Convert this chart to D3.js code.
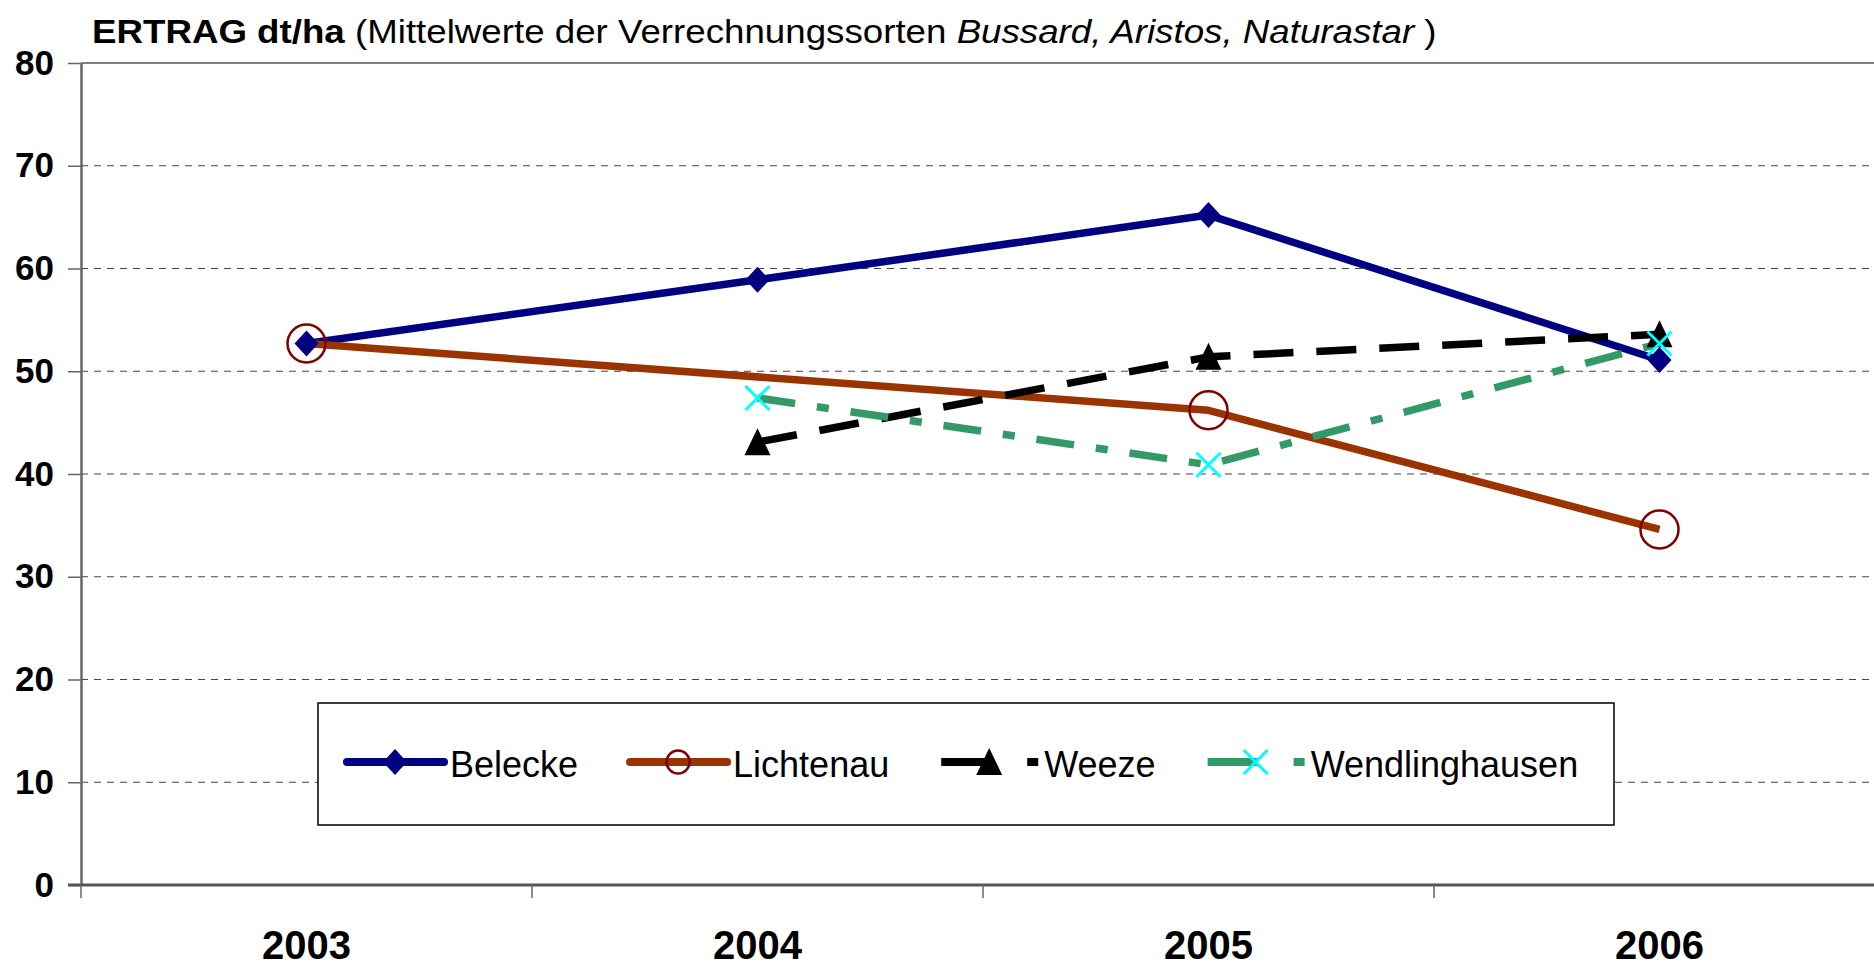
<!DOCTYPE html>
<html>
<head>
<meta charset="utf-8">
<script src="https://cdn.jsdelivr.net/npm/d3@7"></script>
<style>
  body { margin: 0; background: #fff; }
  svg { display: block; }
  text { font-family: Arial, "Liberation Sans", sans-serif; }
</style>
</head>
<body>
<svg id="chart" width="1874" height="967"></svg>
<script>
// data
var years = ["2003", "2004", "2005", "2006"];
var belecke = [52.7, 58.9, 65.2, 51.1];
var lichtenau = [52.7, null, 46.2, 34.6];
var weeze = [null, 43.1, 51.4, 53.6];
var wendlinghausen = [null, 47.4, 40.9, 52.7];
var yTicks = [0, 10, 20, 30, 40, 50, 60, 70, 80];
var seriesNames = ["Belecke", "Lichtenau", "Weeze", "Wendlinghausen"];

var series = [
  {name: seriesNames[0], values: belecke, color: "#000080", dash: null, marker: "diamond", mColor: "#000080"},
  {name: seriesNames[1], values: lichtenau, color: "#993300", dash: null, marker: "circle", mColor: "#800000"},
  {name: seriesNames[2], values: weeze, color: "#000000", dash: "40,23", marker: "triangle", mColor: "#000000"},
  {name: seriesNames[3], values: wendlinghausen, color: "#339966", dash: "38,22,12,22", marker: "x", mColor: "#00ffff"}
];

var svg = d3.select("#chart"),
    plotLeft = 81, plotTop = 63, plotBottom = 885,
    xScale = d3.scaleBand().domain(years).range([plotLeft, plotLeft + 4 * 451]),
    yScale = d3.scaleLinear().domain([0, 80]).range([plotBottom, plotTop]),
    bw = xScale.bandwidth();

function cx(i) { return xScale(years[i]) + bw / 2; }

// gridlines
svg.append("g").selectAll("line")
  .data(yTicks.filter(function(d) { return d > 0 && d < 80; }))
  .enter().append("line")
    .attr("x1", plotLeft).attr("x2", 1874)
    .attr("y1", function(d) { return yScale(d); })
    .attr("y2", function(d) { return yScale(d); })
    .attr("stroke", "#444").attr("stroke-width", 1.2)
    .attr("stroke-dasharray", "7,6");

// top border of plot area
svg.append("line")
  .attr("x1", plotLeft).attr("x2", 1874)
  .attr("y1", yScale(80)).attr("y2", yScale(80))
  .attr("stroke", "#808080").attr("stroke-width", 2);

// y axis
var yAxis = svg.append("g")
  .attr("transform", "translate(" + plotLeft + ",0)")
  .call(d3.axisLeft(yScale).tickValues(yTicks).tickSize(13).tickSizeOuter(0).tickPadding(14));
yAxis.select(".domain").attr("stroke", "#666").attr("stroke-width", 2.5);
yAxis.selectAll(".tick line").attr("stroke", "#666").attr("stroke-width", 1.5);
yAxis.selectAll(".tick text")
  .style("font-size", "35px").style("font-weight", "bold").attr("fill", "#000");

// x axis line + ticks between categories
svg.append("line")
  .attr("x1", plotLeft - 13).attr("x2", 1874)
  .attr("y1", plotBottom).attr("y2", plotBottom)
  .attr("stroke", "#555").attr("stroke-width", 3);
svg.append("g").selectAll("line")
  .data(years)
  .enter().append("line")
    .attr("x1", function(d) { return xScale(d); })
    .attr("x2", function(d) { return xScale(d); })
    .attr("y1", plotBottom).attr("y2", plotBottom + 13)
    .attr("stroke", "#666").attr("stroke-width", 1.5);
svg.append("g").selectAll("text")
  .data(years)
  .enter().append("text")
    .attr("x", function(d) { return xScale(d) + bw / 2; })
    .attr("y", 959)
    .attr("text-anchor", "middle")
    .style("font-size", "40px").style("font-weight", "bold")
    .text(function(d) { return d; });

// title
var title = svg.append("text").attr("x", 92).attr("y", 43).style("font-size", "33px");
title.append("tspan").style("font-weight", "bold").text("ERTRAG dt/ha");
title.append("tspan").text(" (Mittelwerte der Verrechnungssorten ");
title.append("tspan").style("font-style", "italic").text("Bussard, Aristos, Naturastar");
title.append("tspan").text(" )");
var tw = title.node().getComputedTextLength();
title.attr("transform", "translate(92,0) scale(" + (1345 / tw) + ",1) translate(-92,0)");

// markers
function drawMarker(g, type, color, x, y, big) {
  if (type == "diamond") {
    g.append("path")
      .attr("d", "M" + x + "," + (y - 13) + "L" + (x + 12) + "," + y + "L" + x + "," + (y + 13) + "L" + (x - 12) + "," + y + "Z")
      .attr("fill", color);
  } else if (type == "circle") {
    g.append("circle").attr("cx", x).attr("cy", y).attr("r", big ? 19 : 11.5)
      .attr("fill", "none").attr("stroke", color).attr("stroke-width", 2.5);
  } else if (type == "triangle") {
    g.append("path")
      .attr("d", "M" + x + "," + (y - 14) + "L" + (x + 13) + "," + (y + 13) + "L" + (x - 13) + "," + (y + 13) + "Z")
      .attr("fill", color);
  } else if (type == "x") {
    g.append("path")
      .attr("d", "M" + (x - 12) + "," + (y - 12) + "L" + (x + 12) + "," + (y + 12) + "M" + (x + 12) + "," + (y - 12) + "L" + (x - 12) + "," + (y + 12))
      .attr("stroke", color).attr("stroke-width", 3).attr("fill", "none");
  }
}

var line = d3.line()
  .x(function(d) { return cx(d.i); })
  .y(function(d) { return yScale(d.v); });

function points(s) {
  return s.values.map(function(v, i) { return {i: i, v: v}; })
    .filter(function(d) { return d.v != null; });
}

var lines = svg.append("g");
series.forEach(function(s) {
  lines.append("path")
    .attr("d", line(points(s)))
    .attr("fill", "none")
    .attr("stroke", s.color)
    .attr("stroke-width", 7.5)
    .attr("stroke-linejoin", "round")
    .attr("stroke-dasharray", s.dash);
});
var marks = svg.append("g");
series.forEach(function(s) {
  points(s).forEach(function(d) {
    drawMarker(marks, s.marker, s.mColor, cx(d.i), yScale(d.v), true);
  });
});

// legend
var legend = svg.append("g");
legend.append("rect")
  .attr("x", 318).attr("y", 703).attr("width", 1296).attr("height", 122)
  .attr("fill", "#fff").attr("stroke", "#000").attr("stroke-width", 1.5);
var lx = 347, ly = 762;
series.forEach(function(s) {
  legend.append("line")
    .attr("x1", lx).attr("x2", lx + 97).attr("y1", ly).attr("y2", ly)
    .attr("stroke", s.color).attr("stroke-width", 8)
    .attr("stroke-linecap", s.dash ? "butt" : "round")
    .attr("stroke-dasharray", s.dash ? "50,36" : null);
  drawMarker(legend, s.marker, s.mColor, lx + 48, ly, false);
  var t = legend.append("text")
    .attr("x", lx + 103).attr("y", ly + 15)
    .style("font-size", "36px")
    .text(s.name);
  lx += 103 + t.node().getComputedTextLength() + 52;
});
</script>
</body>
</html>
